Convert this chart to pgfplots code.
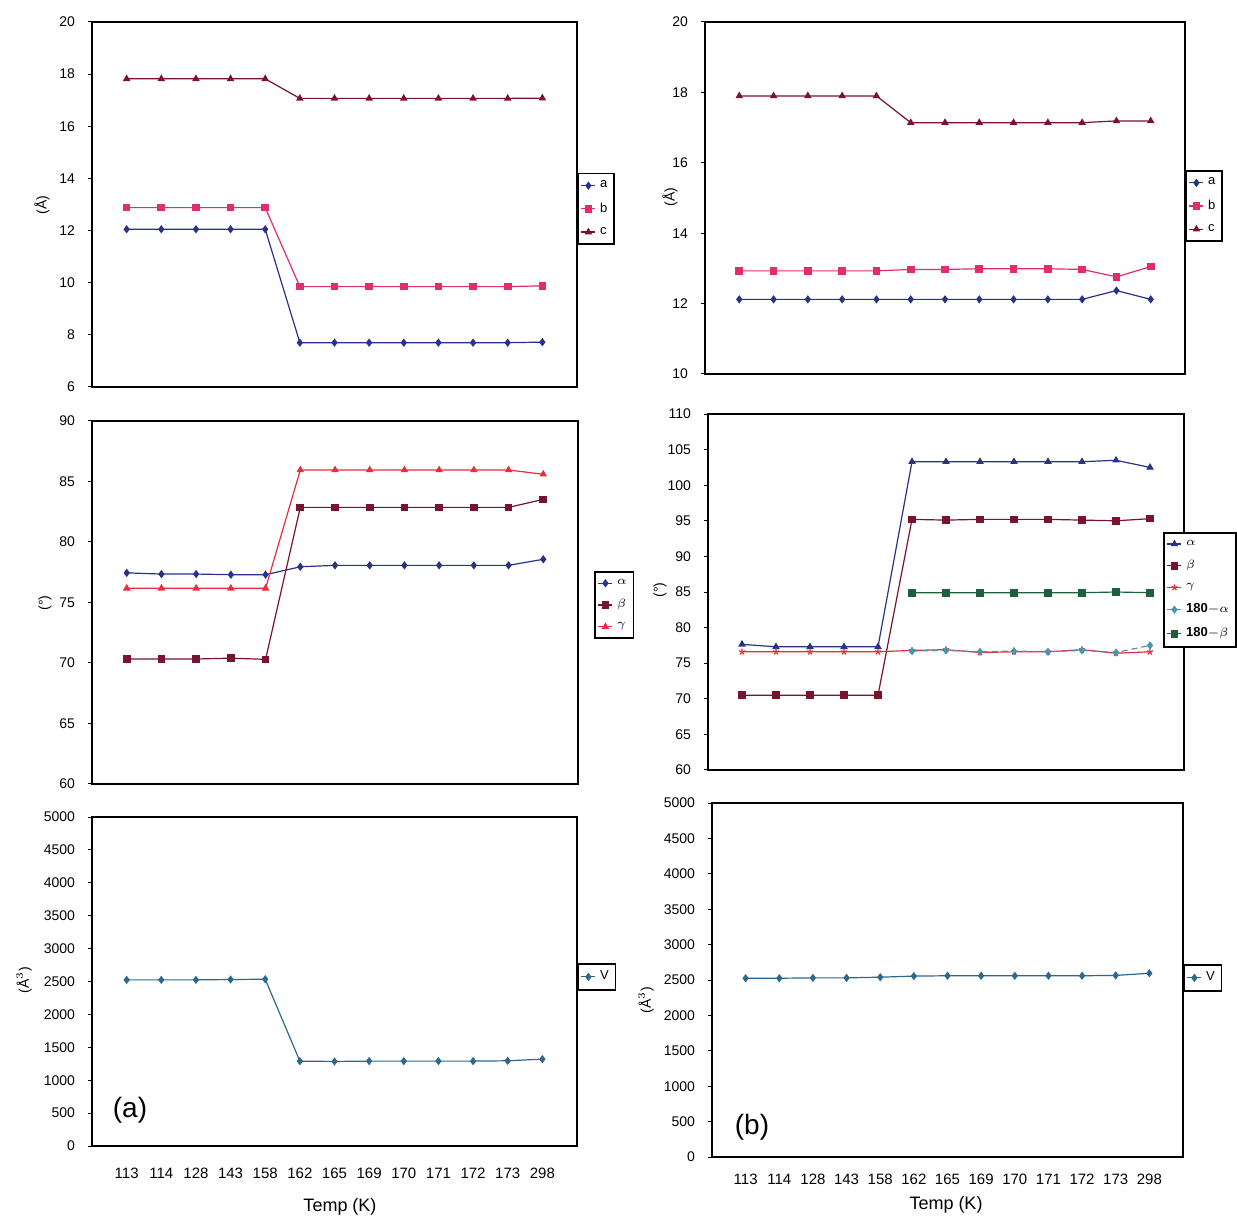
\documentclass[border=0pt]{standalone}
\usepackage{fontspec}
\setmainfont{Liberation Sans}
\usepackage{pgfplots}
\pgfplotsset{compat=1.18}
\definecolor{cnavy}{RGB}{40,50,135}
\definecolor{cpink}{RGB}{225,45,110}
\definecolor{cdred}{RGB}{120,20,45}
\definecolor{cred}{RGB}{232,45,60}
\definecolor{cgreen}{RGB}{30,95,60}
\definecolor{cteal}{RGB}{70,150,175}
\definecolor{cv}{RGB}{45,105,140}
\pgfplotsset{
  panel/.style={
    scale only axis, anchor=south west,
    xmin=-1, xmax=13,
    axis line style={line width=1pt},
    xtick=\empty,
    ytick pos=left, tick align=outside, major tick length=2pt,
    every tick/.style={black, line width=0.5pt},
    /pgf/number format/assume math mode=true,
    /pgf/number format/1000 sep={},
    yticklabel style={font=\fontsize{7}{8}\selectfont, xshift=-3pt},
    legend style={font=\fontsize{6.5}{7.5}\selectfont, draw=black, line width=0.8pt, anchor=west, inner sep=1.5pt, row sep=2pt, cells={anchor=west}},
    legend image code/.code={\draw[line width=0.6pt,mark repeat=2,mark phase=2] plot coordinates {(0pt,0pt)(3.5pt,0pt)(7pt,0pt)};},
    every axis plot/.append style={line width=0.6pt, mark size=1.6pt, mark options={solid}},
  },
  bottompanel/.style={
    xtick={0,...,12},
    xticklabels={113,114,128,143,158,162,165,169,170,171,172,173,298},
    xticklabel style={font=\fontsize{7.5}{8}\selectfont},
    xtick style={draw=none},
  },
}
\begin{document}
\begin{tikzpicture}
\useasboundingbox (0,0) rectangle (618.5pt,608.5pt);
% ---------- top left: cell lengths ----------
\begin{axis}[panel, at={(46pt,415pt)}, width=242.5pt, height=182.5pt,
  ymin=6, ymax=20, ytick={6,8,...,20},
  legend style={at={(1,0.488)}}]
\addplot[cnavy, mark=diamond*] coordinates {(0,12.05)(1,12.05)(2,12.05)(3,12.05)(4,12.05)(5,7.7)(6,7.7)(7,7.7)(8,7.7)(9,7.7)(10,7.7)(11,7.7)(12,7.72)};
\addlegendentry{a}
\addplot[cpink, mark=square*] coordinates {(0,12.88)(1,12.88)(2,12.88)(3,12.88)(4,12.88)(5,9.85)(6,9.85)(7,9.85)(8,9.85)(9,9.85)(10,9.85)(11,9.85)(12,9.88)};
\addlegendentry{b}
\addplot[cdred, mark=triangle*] coordinates {(0,17.82)(1,17.82)(2,17.82)(3,17.82)(4,17.82)(5,17.07)(6,17.07)(7,17.07)(8,17.07)(9,17.07)(10,17.07)(11,17.07)(12,17.08)};
\addlegendentry{c}
\end{axis}
% ---------- middle left: angles ----------
\begin{axis}[panel, at={(46pt,216.5pt)}, width=243pt, height=181.5pt,
  ymin=60, ymax=90, ytick={60,65,...,90},
  legend style={at={(1.033,0.493)}}]
\addplot[cnavy, mark=diamond*] coordinates {(0,77.45)(1,77.35)(2,77.35)(3,77.3)(4,77.3)(5,77.95)(6,78.07)(7,78.07)(8,78.07)(9,78.07)(10,78.07)(11,78.07)(12,78.57)};
\addlegendentry{$\alpha$}
\addplot[cdred, mark=square*] coordinates {(0,70.33)(1,70.33)(2,70.33)(3,70.4)(4,70.3)(5,82.86)(6,82.86)(7,82.86)(8,82.86)(9,82.86)(10,82.86)(11,82.86)(12,83.52)};
\addlegendentry{$\beta$}
\addplot[cred, mark=triangle*] coordinates {(0,76.17)(1,76.17)(2,76.17)(3,76.17)(4,76.17)(5,85.95)(6,85.95)(7,85.95)(8,85.95)(9,85.95)(10,85.95)(11,85.95)(12,85.6)};
\addlegendentry{$\gamma$}
\end{axis}
% ---------- bottom left: volume ----------
\begin{axis}[panel, bottompanel, at={(46pt,35.5pt)}, width=242.5pt, height=164.5pt,
  ymin=0, ymax=5000, ytick={0,500,...,5000},
  xticklabel style={yshift=-5.5pt},
  legend style={at={(1,0.514)}}]
\addplot[cv, mark=diamond*] coordinates {(0,2525)(1,2525)(2,2525)(3,2530)(4,2535)(5,1290)(6,1285)(7,1290)(8,1290)(9,1290)(10,1290)(11,1295)(12,1320)};
\addlegendentry{V}
\end{axis}
% ---------- top right ----------
\begin{axis}[panel, at={(352.5pt,421.5pt)}, width=240pt, height=176pt,
  ymin=10, ymax=20, ytick={10,12,...,20},
  legend style={at={(1,0.477)}}]
\addplot[cnavy, mark=diamond*] coordinates {(0,12.12)(1,12.12)(2,12.12)(3,12.12)(4,12.12)(5,12.12)(6,12.12)(7,12.12)(8,12.12)(9,12.12)(10,12.12)(11,12.37)(12,12.12)};
\addlegendentry{a}
\addplot[cpink, mark=square*] coordinates {(0,12.93)(1,12.93)(2,12.93)(3,12.93)(4,12.93)(5,12.97)(6,12.97)(7,12.99)(8,12.99)(9,12.99)(10,12.97)(11,12.76)(12,13.05)};
\addlegendentry{b}
\addplot[cdred, mark=triangle*] coordinates {(0,17.9)(1,17.9)(2,17.9)(3,17.9)(4,17.9)(5,17.14)(6,17.14)(7,17.14)(8,17.14)(9,17.14)(10,17.14)(11,17.19)(12,17.19)};
\addlegendentry{c}
\end{axis}
% ---------- middle right ----------
\begin{axis}[panel, at={(354pt,223.5pt)}, width=238pt, height=178pt,
  ymin=60, ymax=110, ytick={60,65,...,110},
  legend style={at={(0.956,0.506)}, font=\fontsize{6.5}{7.5}\selectfont\bfseries}]
\addplot[cnavy, mark=triangle*] coordinates {(0,77.65)(1,77.3)(2,77.3)(3,77.3)(4,77.3)(5,103.3)(6,103.3)(7,103.3)(8,103.3)(9,103.3)(10,103.3)(11,103.5)(12,102.5)};
\addlegendentry{$\alpha$}
\addplot[cdred, mark=square*] coordinates {(0,70.5)(1,70.5)(2,70.5)(3,70.5)(4,70.5)(5,95.2)(6,95.1)(7,95.2)(8,95.2)(9,95.2)(10,95.1)(11,95.0)(12,95.3)};
\addlegendentry{$\beta$}
\addplot[cred, mark=star] coordinates {(0,76.6)(1,76.6)(2,76.6)(3,76.6)(4,76.6)(5,76.8)(6,76.9)(7,76.5)(8,76.6)(9,76.6)(10,76.9)(11,76.4)(12,76.6)};
\addlegendentry{$\gamma$}
\addplot[cteal, densely dashed, mark=diamond*] coordinates {(5,76.7)(6,76.8)(7,76.6)(8,76.7)(9,76.6)(10,76.8)(11,76.5)(12,77.5)};
\addlegendentry{180$-\alpha$}
\addplot[cgreen, mark=square*] coordinates {(5,84.9)(6,84.9)(7,84.9)(8,84.9)(9,84.9)(10,84.9)(11,85.0)(12,84.9)};
\addlegendentry{180$-\beta$}
\end{axis}
% ---------- bottom right ----------
\begin{axis}[panel, bottompanel, at={(356pt,30pt)}, width=235.5pt, height=177pt,
  ymin=0, ymax=5000, ytick={0,500,...,5000},
  xticklabel style={yshift=-3pt},
  legend style={at={(1,0.506)}}]
\addplot[cv, mark=diamond*] coordinates {(0,2525)(1,2525)(2,2530)(3,2530)(4,2540)(5,2555)(6,2560)(7,2560)(8,2560)(9,2560)(10,2560)(11,2565)(12,2595)};
\addlegendentry{V}
\end{axis}
% ---------- free text ----------
\node[font=\fontsize{9}{10}\selectfont] at (170pt,5pt) {Temp (K)};
\node[font=\fontsize{9}{10}\selectfont] at (473pt,6pt) {Temp (K)};
\node[rotate=90,font=\fontsize{7}{8}\selectfont] at (21pt,506pt) {(Å)};
\node[rotate=90,font=\fontsize{7}{8}\selectfont] at (335pt,510pt) {(Å)};
\node[rotate=90,font=\fontsize{7}{8}\selectfont] at (22.5pt,307pt) {(°)};
\node[rotate=90,font=\fontsize{7}{8}\selectfont] at (330pt,313.5pt) {(°)};
\node[rotate=90,font=\fontsize{7}{8}\selectfont] at (12pt,118.5pt) {(Å$^3$)};
\node[rotate=90,font=\fontsize{7}{8}\selectfont] at (323pt,108.5pt) {(Å$^3$)};
\node[font=\fontsize{14}{16}\selectfont] at (65pt,53.5pt) {(a)};
\node[font=\fontsize{14}{16}\selectfont] at (376pt,45pt) {(b)};
\end{tikzpicture}
\end{document}
